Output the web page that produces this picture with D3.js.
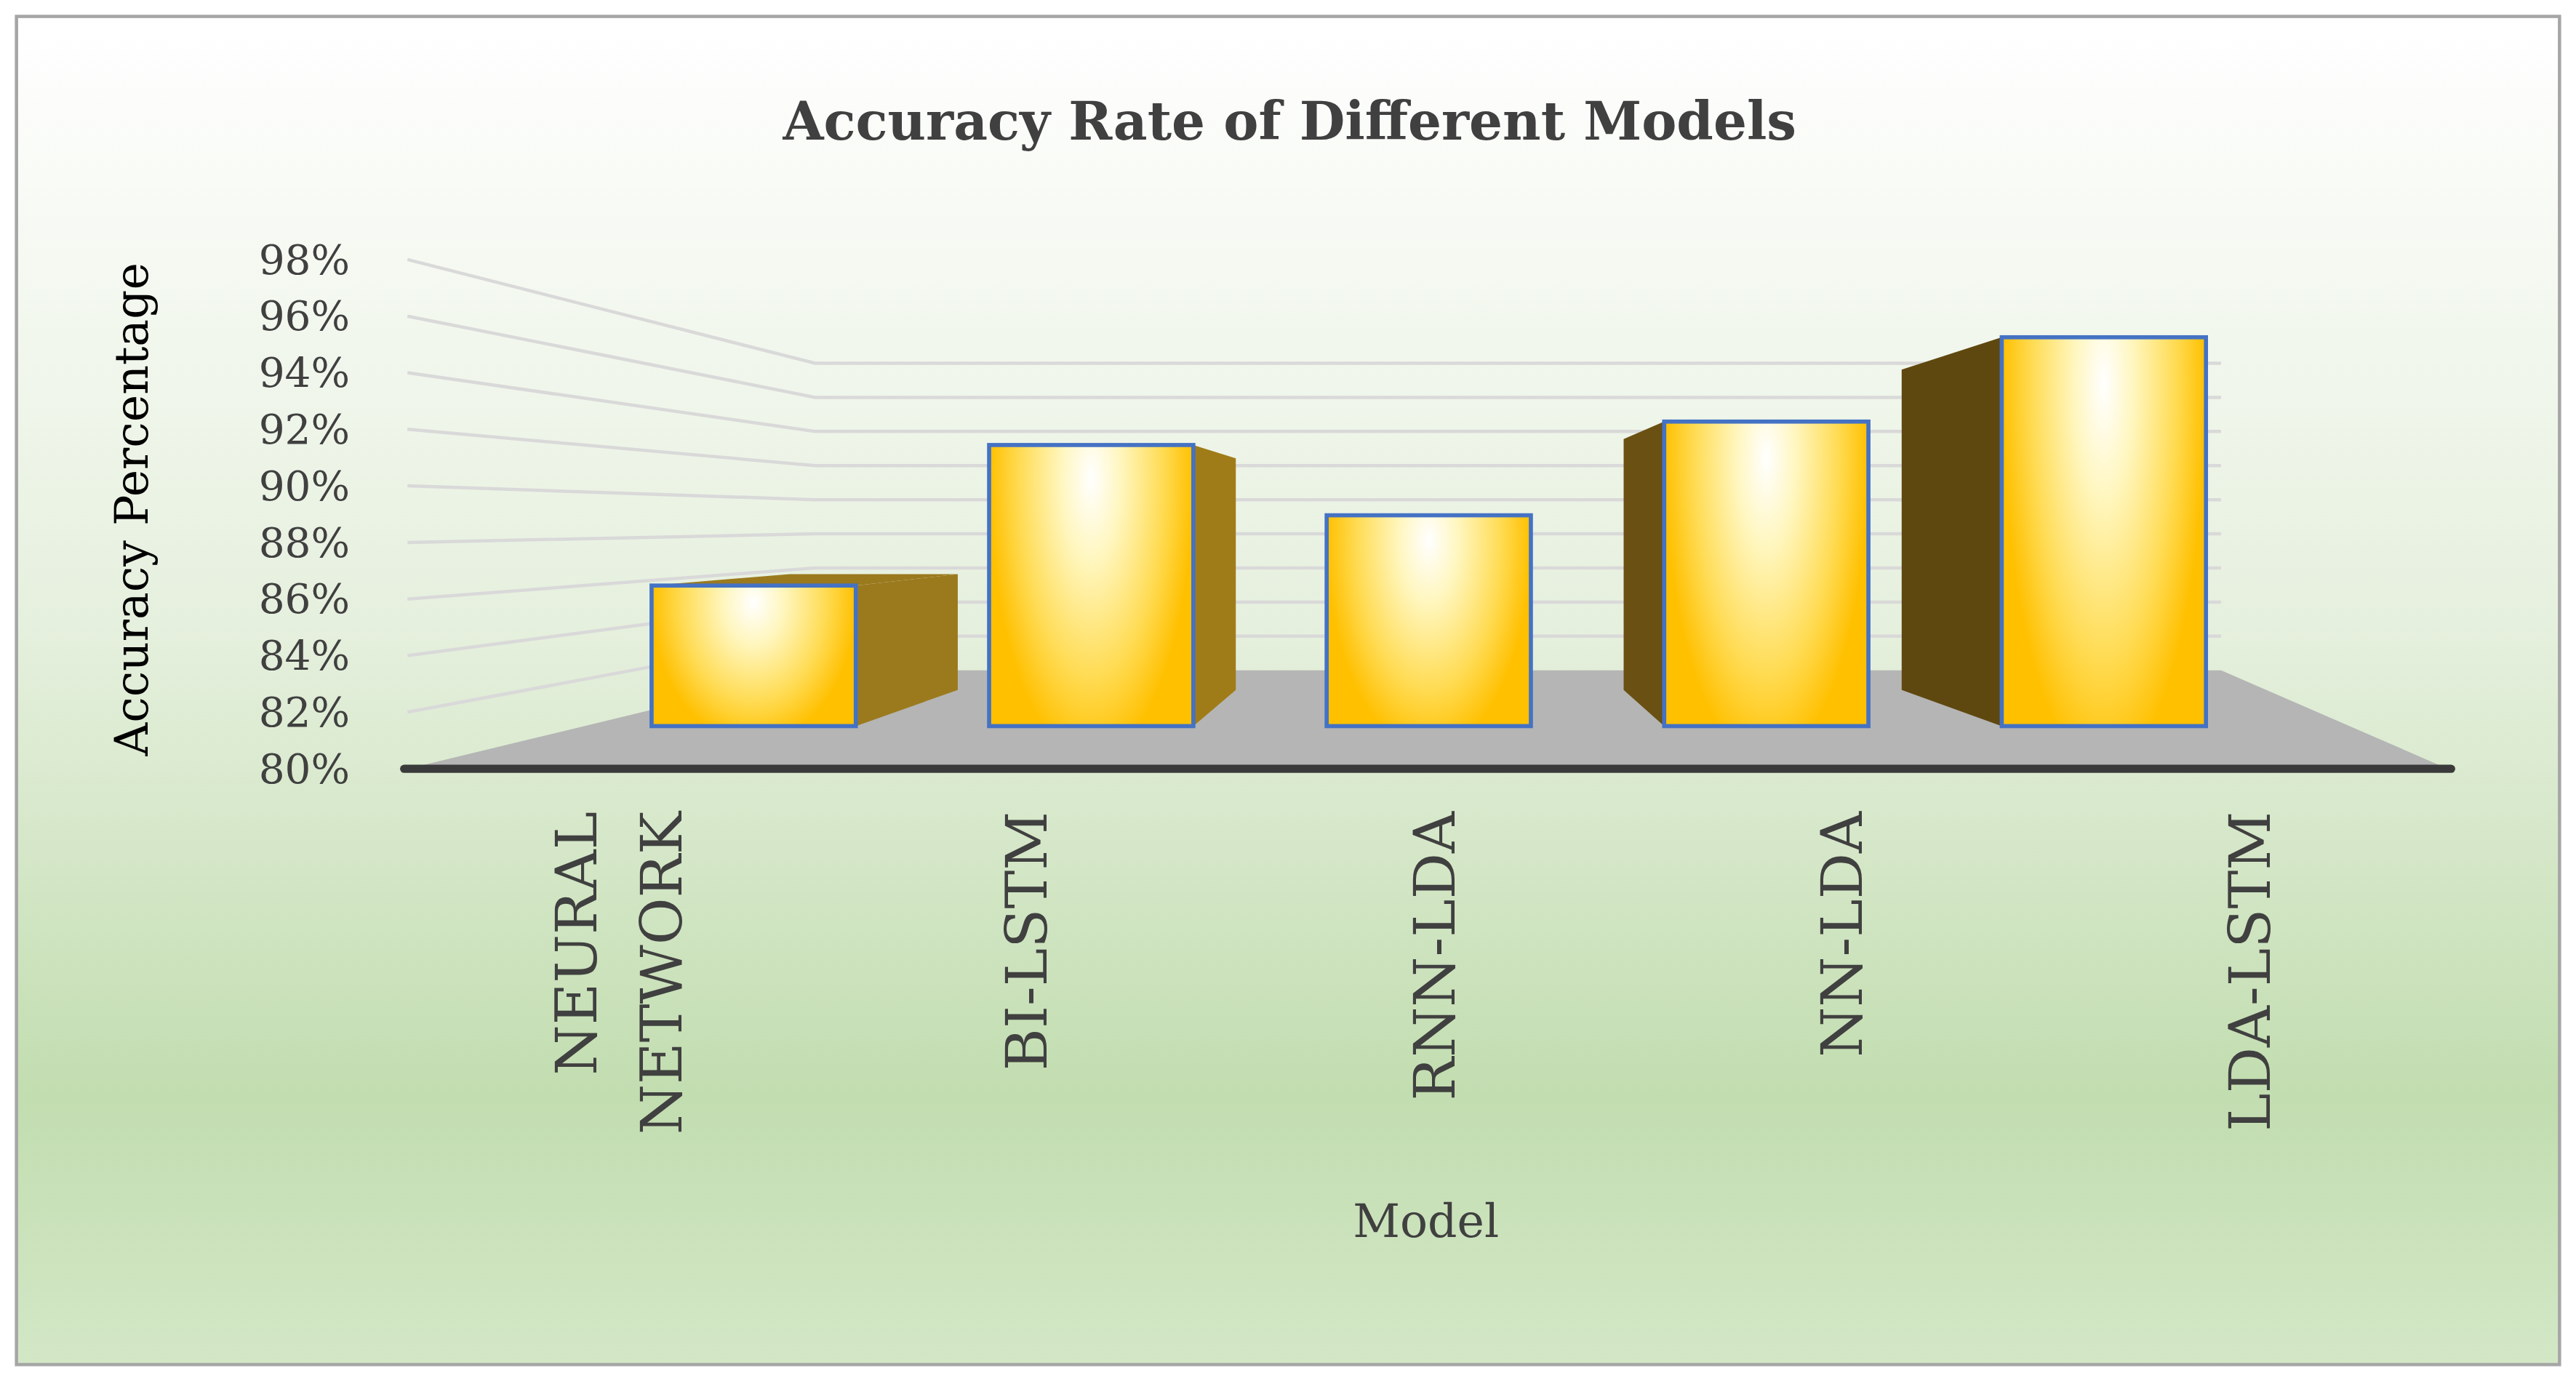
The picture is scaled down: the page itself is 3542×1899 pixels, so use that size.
<!DOCTYPE html>
<html><head><meta charset="utf-8">
<script src="https://cdn.jsdelivr.net/npm/d3@7"></script>
<style>html,body{margin:0;padding:0;background:#fff}</style>
</head><body>
<script>
const categories = ["NEURAL NETWORK", "BI-LSTM", "RNN-LDA", "NN-LDA", "LDA-LSTM"];
const accuracy = [86, 92, 89, 93, 96.6];
const tickValues = [80, 82, 84, 86, 88, 90, 92, 94, 96, 98];

const W = 1568, H = 840.7;
const svg = d3.select("body").append("svg")
  .attr("width", 3542).attr("height", 1899)
  .attr("viewBox", `0 0 ${W} ${H}`);
const defs = svg.append("defs");
const bg = defs.append("linearGradient").attr("id","bg").attr("x1",0).attr("y1",0).attr("x2",0).attr("y2",1);
bg.append("stop").attr("offset","0%").attr("stop-color","#ffffff");
bg.append("stop").attr("offset","45%").attr("stop-color","#e6f0de");
bg.append("stop").attr("offset","80%").attr("stop-color","#c2ddb0");
bg.append("stop").attr("offset","100%").attr("stop-color","#d3e7c6");
const bar = defs.append("radialGradient").attr("id","bar").attr("cx","50%").attr("cy","12%").attr("r","100%")
  .attr("gradientTransform","translate(0.5,0) scale(0.5,1) translate(-0.5,0)");
bar.append("stop").attr("offset","0%").attr("stop-color","#ffffff");
bar.append("stop").attr("offset","30%").attr("stop-color","#fff6bd");
bar.append("stop").attr("offset","70%").attr("stop-color","#ffdc55");
bar.append("stop").attr("offset","100%").attr("stop-color","#ffc000");

svg.append("rect").attr("x",10).attr("y",10).attr("width",W-20).attr("height",H-20)
  .attr("fill","url(#bg)").attr("stroke","#a6a6a6").attr("stroke-width",2);

const vx = 873, vy = 317, sBack = 0.603, sBarF = 0.828, sBarB = 0.682;
const P = (X, Y, s) => [vx + (X - vx) * s, vy + (Y - vy) * s];
const y = d3.scaleLinear().domain([80, 98]).range([468, 158]);
const x = d3.scaleBand().domain(categories).range([248, 1490]).paddingInner(0.395).paddingOuter(0.2);
const gridRightX = 1352;

const fl = [[248,468], P(248,468,sBack), [gridRightX, P(248,468,sBack)[1]], [1490,468]];
svg.append("path").attr("d", d3.line()(fl)+"Z").attr("fill","#b5b5b5");

tickValues.forEach(v => {
  if (v === 80) return;
  const a = [248, y(v)], b = P(248, y(v), sBack);
  svg.append("path").attr("d", d3.line()([a, b, [gridRightX, b[1]]]))
    .attr("fill","none").attr("stroke","#d9d9d9").attr("stroke-width",2);
});
svg.append("line").attr("x1",246).attr("x2",1492).attr("y1",468).attr("y2",468)
  .attr("stroke","#3a3a3a").attr("stroke-width",5).attr("stroke-linecap","round");

svg.selectAll(".tick").data(tickValues).enter().append("text")
  .attr("x",213).attr("y",d=>y(d)).attr("dy","0.35em").attr("text-anchor","end")
  .attr("font-family","DejaVu Serif").attr("font-size",25).attr("fill","#404040")
  .text(d=>d+"%");

categories.forEach((c,i) => {
  const X0 = x(c), X1 = x(c) + x.bandwidth(), Yb = 468, Yt = y(accuracy[i]);
  const f0 = P(X0,Yb,sBarF), f1 = P(X1,Yb,sBarF), t0 = P(X0,Yt,sBarF), t1 = P(X1,Yt,sBarF);
  const b0 = P(X0,Yb,sBarB), b1 = P(X1,Yb,sBarB), u0 = P(X0,Yt,sBarB), u1 = P(X1,Yt,sBarB);
  const g = svg.append("g");
  if (f1[0] < vx - 20) {
    g.append("path").attr("d", d3.line()([f1,b1,u1,t1])+"Z").attr("fill", i===0?"#9b7a1e":"#a07c18");
  } else if (f0[0] > vx + 20) {
    g.append("path").attr("d", d3.line()([f0,b0,u0,t0])+"Z").attr("fill", i===3?"#6a5012":"#5f480f");
  }
  if (t0[1] > vy) {
    g.append("path").attr("d", d3.line()([t0,u0,u1,t1])+"Z").attr("fill","#9b7a1e");
  }
  g.append("rect").attr("x",t0[0]).attr("y",t0[1]).attr("width",t1[0]-t0[0]).attr("height",f0[1]-t0[1])
    .attr("fill","url(#bar)").attr("stroke","#4472c4").attr("stroke-width",2.5);
});

categories.forEach(c => {
  const cx = x(c) + x.bandwidth()/2 + 4;
  const words = c === "NEURAL NETWORK" ? ["NEURAL","NETWORK"] : [c];
  const t = svg.append("text").attr("transform",`translate(${cx},494) rotate(-90)`)
    .attr("text-anchor","end").attr("font-family","DejaVu Serif").attr("font-size",35).attr("fill","#404040");
  words.forEach((w,k)=>t.append("tspan").attr("x",0)
    .attr("y", (k - (words.length-1)/2) * 52).attr("dy","0.35em").text(w));
});

svg.append("text").attr("x",785).attr("y",85).attr("text-anchor","middle")
  .attr("font-family","DejaVu Serif").attr("font-weight","bold").attr("font-size",32).attr("fill","#404040")
  .text("Accuracy Rate of Different Models");
svg.append("text").attr("transform","translate(80,310) rotate(-90)").attr("text-anchor","middle")
  .attr("dy","0.35em").attr("font-family","DejaVu Serif").attr("font-size",28).attr("fill","#000")
  .text("Accuracy Percentage");
svg.append("text").attr("x",868).attr("y",753).attr("text-anchor","middle")
  .attr("font-family","DejaVu Serif").attr("font-size",28).attr("fill","#404040").text("Model");
</script>
</body></html>
